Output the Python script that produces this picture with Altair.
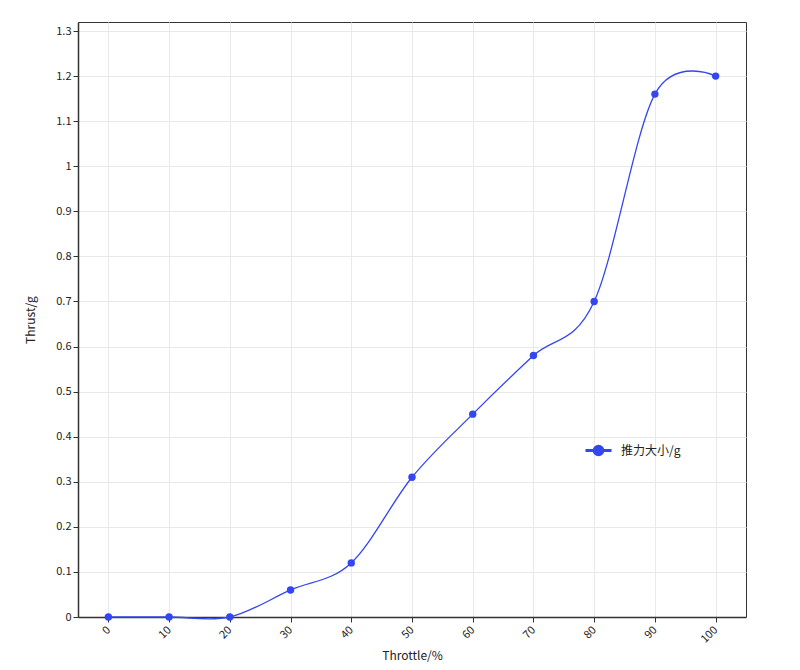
import altair as alt
import pandas as pd

throttle = [0, 10, 20, 30, 40, 50, 60, 70, 80, 90, 100]
thrust = [0, 0, 0, 0.06, 0.12, 0.31, 0.45, 0.58, 0.70, 1.16, 1.20]
series_name = "推力大小/g"
y_ticks = [0, 0.1, 0.2, 0.3, 0.4, 0.5, 0.6, 0.7, 0.8, 0.9, 1.0, 1.1, 1.2, 1.3]

df = pd.DataFrame({"throttle": throttle, "thrust": thrust, "series": [series_name] * len(throttle)})

BLUE = "#3346f2"
FONT = "Noto Sans CJK SC"

x = alt.X(
    "throttle:O",
    sort=throttle,
    scale=alt.Scale(type="point", padding=0.5),
    axis=alt.Axis(
        title="Throttle/%",
        grid=True,
        labelAngle=-45,
        labelAlign="right",
        labelBaseline="middle",
        labelPadding=6,
        tickSize=5,
        titlePadding=6,
    ),
)
y = alt.Y(
    "thrust:Q",
    scale=alt.Scale(domain=[0, 1.32], nice=False, zero=True),
    axis=alt.Axis(
        title="Thrust/g",
        values=y_ticks,
        format="~g",
        tickSize=5,
        titlePadding=18,
    ),
)
color = alt.Color(
    "series:N",
    scale=alt.Scale(range=[BLUE]),
    legend=alt.Legend(
        title=None,
        orient="none",
        legendX=506,
        legendY=414,
        symbolType="M-1,0L1,0M-0.33,0A0.33,0.33 0 1,0 0.33,0A0.33,0.33 0 1,0 -0.33,0",
        symbolSize=676,
        symbolStrokeWidth=3,
        symbolFillColor=BLUE,
        symbolStrokeColor=BLUE,
        labelFontSize=12,
        labelFont=FONT,
        labelColor="#222",
        padding=0,
        labelOffset=8,
    ),
)

line = alt.Chart(df).mark_line(interpolate="cardinal", strokeWidth=1.3).encode(x=x, y=y, color=color)
pts = alt.Chart(df).mark_circle(size=55, opacity=1).encode(
    x=x, y=y, color=alt.Color("series:N", scale=alt.Scale(range=[BLUE]), legend=None)
)

chart = (
    alt.layer(line, pts)
    .properties(
        width=668,
        height=595,
        autosize=alt.AutoSizeParams(type="none"),
        padding={"left": 70, "top": 14, "right": 30, "bottom": 45},
    )
    .configure_view(stroke="#333", strokeWidth=1)
    .configure_axis(
        domainColor="#333",
        domainWidth=1.5,
        tickColor="#333",
        gridColor="#e9e9e9",
        labelFont=FONT,
        titleFont=FONT,
        labelFontSize=11,
        titleFontSize=12,
        titleFontWeight="normal",
        labelColor="#222",
        titleColor="#222",
    )
)

chart.save("out.html", embed_options={"renderer": "svg", "actions": False})
